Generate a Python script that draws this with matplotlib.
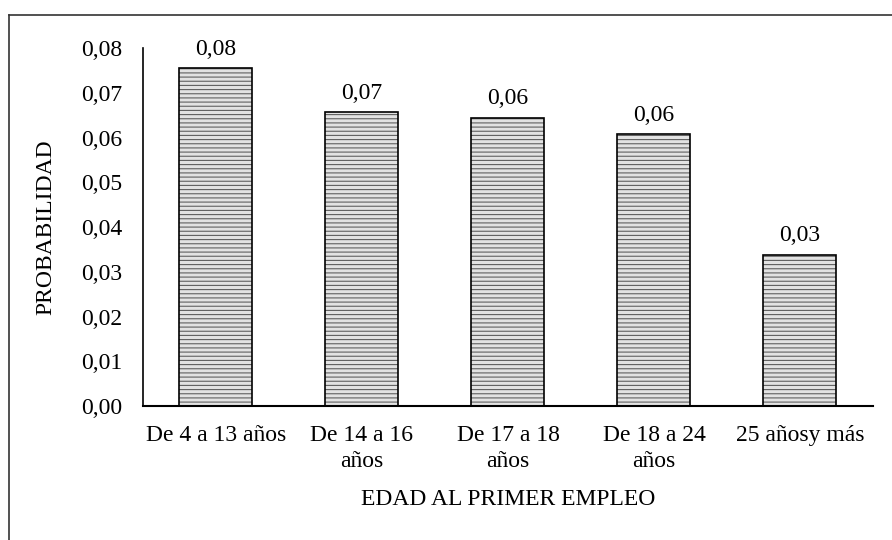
import matplotlib
matplotlib.use("Agg")
import matplotlib.pyplot as plt
from matplotlib.lines import Line2D

plt.rcParams['font.family'] = ['Liberation Serif', 'DejaVu Serif']
plt.rcParams['hatch.linewidth'] = 0.8

categories = ["De 4 a 13 años", "De 14 a 16\naños", "De 17 a 18\naños",
              "De 18 a 24\naños", "25 añosy más"]
probabilidad = [0.0755, 0.0657, 0.0644, 0.0607, 0.0338]
yticks = [0.00, 0.01, 0.02, 0.03, 0.04, 0.05, 0.06, 0.07, 0.08]

FS = 17

fig = plt.figure(figsize=(8.92, 5.4), dpi=100)
ax = fig.add_axes([0.1603, 0.2481, 0.8184, 0.6630])

x = list(range(len(categories)))
# hatched fill, then a crisp black outline on top
ax.bar(x, probabilidad, width=0.5, color='#e2e2e2', edgecolor='#606060',
       hatch='----', linewidth=0, zorder=2)
ax.bar(x, probabilidad, width=0.5, color='none', edgecolor='black',
       linewidth=1.2, zorder=3)

for xi, v in zip(x, probabilidad):
    ax.annotate(f"{v:.2f}".replace('.', ','), (xi, v), xytext=(0, 6),
                textcoords='offset points', ha='center', va='bottom',
                fontsize=FS)

ax.set_xlim(-0.5, 4.5)
ax.set_ylim(0, 0.08)
ax.set_yticks(yticks)
ax.set_yticklabels([f"{t:.2f}".replace('.', ',') for t in yticks])
ax.set_xticks(x)
ax.set_xticklabels(categories, linespacing=1.3)
ax.tick_params(axis='both', length=0, labelsize=FS)
ax.tick_params(axis='x', pad=14)
ax.tick_params(axis='y', pad=15)

for s in ('top', 'right'):
    ax.spines[s].set_visible(False)
ax.spines['left'].set_linewidth(1.2)
ax.spines['bottom'].set_linewidth(1.5)

ax.set_xlabel("EDAD AL PRIMER EMPLEO", fontsize=FS, labelpad=12)
ax.set_ylabel("PROBABILIDAD", fontsize=FS, labelpad=18)

# outer frame (left and top edges visible)
fig.add_artist(Line2D([9/892, 9/892], [0, 1 - 15/540], transform=fig.transFigure,
                      color='#333333', linewidth=1.2))
fig.add_artist(Line2D([9/892, 1], [1 - 15/540, 1 - 15/540], transform=fig.transFigure,
                      color='#333333', linewidth=1.2))

fig.savefig("out.png", dpi=100)
